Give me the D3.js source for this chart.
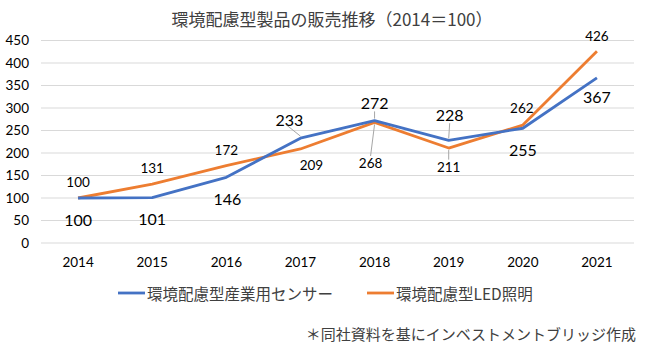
<!DOCTYPE html>
<html><head><meta charset="utf-8">
<script src="https://cdn.jsdelivr.net/npm/d3@7"></script>
<style>
body{margin:0;background:#fff;}
text{font-family:Lato,"Noto Sans CJK JP",sans-serif;fill:#000;}
.jp{font-family:"Noto Sans CJK JP",sans-serif;}
</style></head>
<body><svg id="c" width="645" height="353"></svg>
<script>
const years = ["2014","2015","2016","2017","2018","2019","2020","2021"];
const sensor = [100,101,146,233,272,228,255,367];
const led = [100,131,172,209,268,211,262,426];
const yTicks = [0,50,100,150,200,250,300,350,400,450];
const seriesNames = ["環境配慮型産業用センサー","環境配慮型LED照明"];
const title = "環境配慮型製品の販売推移（2014＝100）";
const note = "＊同社資料を基にインベストメントブリッジ作成";
// label offsets (dx, dy) relative to point
const sensorLabelOff = [[0,21],[0,21],[1,21],[-11,-19],[0,-18],[1,-26],[0,21],[0,19]];
const ledLabelOff = [[0,-16],[0,-16],[0,-16],[11,16],[-4,41],[0,19],[-1,-17],[0,-15]];
const sensorLeader = [0,0,0,1,1,1,0,0];
const ledLeader = [0,0,0,0,1,1,0,0];

const svg = d3.select("#c");
const x = d3.scaleBand().domain(years).range([41,634]);
const y = d3.scaleLinear().domain([0,450]).range([243,40.5]);
const cx = d => x(d)+x.bandwidth()/2;

svg.append("text").attr("class","jp").attr("x",332).attr("y",18).attr("text-anchor","middle")
  .attr("dominant-baseline","central").style("font-size","17px").style("fill","#404040").text(title);

svg.append("g").selectAll("line").data(yTicks).join("line")
  .attr("x1",41).attr("x2",634).attr("y1",d=>y(d)).attr("y2",d=>y(d))
  .attr("stroke","#d9d9d9").attr("stroke-width",1);

const ya = svg.append("g").attr("transform","translate(29,0)")
  .call(d3.axisLeft(y).tickValues(yTicks).tickSize(0).tickPadding(0));
ya.select(".domain").remove();
ya.selectAll("text").style("font-size","13.5px").style("fill","#000").attr("font-family",null);

const xa = svg.append("g").attr("transform","translate(0,262)")
  .call(d3.axisBottom(x).tickSize(0).tickPadding(0));
xa.select(".domain").remove();
xa.selectAll("text").style("font-size","13.5px").attr("dy","0.35em").attr("font-family",null);

const line = d3.line().x((d,i)=>cx(years[i])).y(d=>y(d));
const series = [
  {vals:led, color:"#ED7D31", off:ledLabelOff, lead:ledLeader, fs:13.5},
  {vals:sensor, color:"#4472C4", off:sensorLabelOff, lead:sensorLeader, fs:16}
];
series.forEach(s=>{
  svg.append("path").datum(s.vals).attr("d",line).attr("fill","none")
    .attr("stroke",s.color).attr("stroke-width",2.8).attr("stroke-linejoin","round");
});
series.forEach(s=>{
  s.vals.forEach((v,i)=>{
    const px = cx(years[i]), py = y(v);
    const lx = px + s.off[i][0], ly = py + s.off[i][1];
    if (s.lead[i]) {
      const h = s.fs*0.55;
      let y1 = ly + (s.off[i][1] < 0 ? h : -h);
      let x1 = lx;
      if (s.off[i][0] < -5) { y1 = ly + 5; x1 = lx - 4; }
      const y2 = py + (s.off[i][1] < 0 ? -2 : 2);
      svg.append("line").attr("x1",x1).attr("y1",y1).attr("x2",px).attr("y2",y2)
        .attr("stroke","#a6a6a6").attr("stroke-width",1);
    }
    svg.append("text").attr("x",lx).attr("y",ly).attr("text-anchor","middle")
      .attr("dominant-baseline","central").style("font-size",s.fs+"px").text(v);
  });
});

// legend
const lg = [{name:seriesNames[0], color:"#4472C4", x:118},{name:seriesNames[1], color:"#ED7D31", x:367}];
lg.forEach(l=>{
  svg.append("line").attr("x1",l.x).attr("x2",l.x+27).attr("y1",293).attr("y2",293)
    .attr("stroke",l.color).attr("stroke-width",2.8);
  svg.append("text").attr("class","jp").attr("x",l.x+29).attr("y",293).attr("dominant-baseline","central")
    .style("font-size","15.5px").style("fill","#404040").text(l.name);
});
svg.append("text").attr("class","jp").attr("x",636).attr("y",333).attr("text-anchor","end")
  .attr("dominant-baseline","central").style("font-size","15px").style("fill","#404040").text(note);
</script></body></html>
